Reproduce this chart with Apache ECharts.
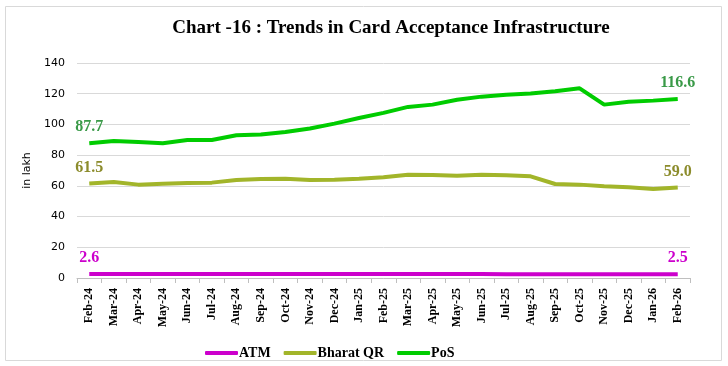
<!DOCTYPE html>
<html>
<head>
<meta charset="utf-8">
<script src="https://cdn.jsdelivr.net/npm/echarts@6/dist/echarts.min.js"></script>
<style>
html,body{margin:0;padding:0;background:#fff;}
#chart{width:728px;height:366px;}
</style>
</head>
<body>
<div id="chart"></div>
<script>
const categories = ["Feb-24","Mar-24","Apr-24","May-24","Jun-24","Jul-24","Aug-24","Sep-24","Oct-24","Nov-24","Dec-24","Jan-25","Feb-25","Mar-25","Apr-25","May-25","Jun-25","Jul-25","Aug-25","Sep-25","Oct-25","Nov-25","Dec-25","Jan-26","Feb-26"];
const atm = [2.6,2.6,2.6,2.6,2.6,2.6,2.6,2.6,2.6,2.6,2.6,2.6,2.6,2.6,2.6,2.6,2.6,2.5,2.5,2.5,2.5,2.5,2.5,2.5,2.5];
const bharatQR = [61.5,62.5,60.8,61.4,61.9,62.1,63.8,64.5,64.7,63.8,64.0,64.7,65.6,67.3,67.1,66.6,67.3,66.9,66.2,61.2,60.8,59.7,59.1,58.0,59.0];
const pos = [87.7,89.2,88.6,87.8,89.9,89.9,92.9,93.4,95.1,97.3,100.5,104.2,107.5,111.4,112.9,116.1,118.1,119.4,120.1,121.6,123.5,112.9,114.8,115.5,116.6];
const yTicks = [0,20,40,60,80,100,120,140];

const chart = echarts.init(document.getElementById('chart'));
const serif = "'Liberation Serif', 'DejaVu Serif', serif";
function endLabels(color){
  return {
    show: true,
    position: 'top',
    distance: 8,
    color: color,
    fontFamily: serif,
    fontWeight: 'bold',
    fontSize: 16,
    formatter: function(p){
      return (p.dataIndex === 0 || p.dataIndex === categories.length - 1) ? p.value.toFixed(1) : '';
    }
  };
}
function line(name, data, color, labelColor){
  return {
    name: name, type: 'line', data: data,
    symbol: 'circle', symbolSize: 0, showSymbol: true,
    lineStyle: {color: color, width: 4},
    itemStyle: {color: color},
    label: endLabels(labelColor)
  };
}
chart.setOption({
  animation: false,
  graphic: [{
    type: 'rect',
    shape: {x: 5.5, y: 6.5, width: 716, height: 354},
    style: {fill: 'none', stroke: '#d9d9d9', lineWidth: 1},
    silent: true, z: -1
  }],
  title: {
    text: 'Chart -16 : Trends in Card Acceptance Infrastructure',
    left: 386, top: 14, textAlign: 'center',
    textStyle: {fontFamily: serif, fontWeight: 'bold', fontSize: 19, color: '#000'}
  },
  legend: {
    data: ['ATM','Bharat QR','PoS'],
    left: 200, top: 341,
    itemWidth: 33, itemHeight: 4, itemGap: 13,
    icon: 'roundRect',
    textStyle: {fontFamily: serif, fontWeight: 'bold', fontSize: 14, color: '#000', padding: [0,0,0,-4]}
  },
  grid: {left: 77, right: 38, top: 63, bottom: 88},
  xAxis: {
    type: 'category',
    data: categories,
    boundaryGap: true,
    axisLine: {lineStyle: {color: '#bfbfbf'}},
    axisTick: {show: true, length: 5, lineStyle: {color: '#bfbfbf'}},
    axisLabel: {rotate: 90, interval: 0, fontFamily: serif, fontWeight: 'bold', fontSize: 12, color: '#000', margin: 10}
  },
  yAxis: {
    type: 'value',
    min: 0, max: 140, interval: 20,
    name: 'in lakh', nameLocation: 'middle', nameGap: 43, nameRotate: 90,
    nameTextStyle: {fontFamily: "'DejaVu Sans', sans-serif", fontSize: 11, color: '#000'},
    axisLine: {show: false},
    axisTick: {show: false},
    axisLabel: {fontFamily: "'DejaVu Sans', sans-serif", fontSize: 11, color: '#000', margin: 12,
      formatter: function(v){ return yTicks.indexOf(v) >= 0 ? String(v) : ''; }},
    splitLine: {lineStyle: {color: '#d9d9d9'}}
  },
  series: [
    line('ATM', atm, '#cc00cc', '#cc00cc'),
    line('Bharat QR', bharatQR, '#a2b52a', '#8c8c2c'),
    line('PoS', pos, '#00cc00', '#3a9a48')
  ]
});
</script>
</body>
</html>
